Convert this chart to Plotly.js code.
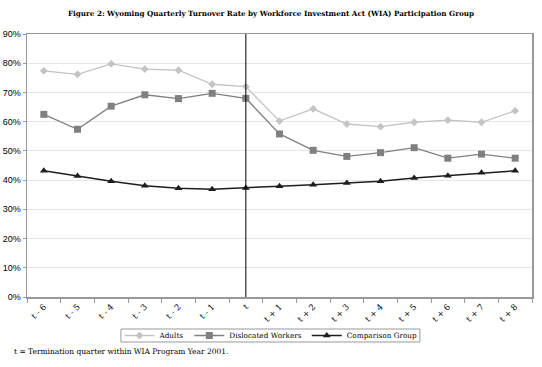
<!DOCTYPE html>
<html><head><meta charset="utf-8">
<script src="https://cdn.plot.ly/plotly-3.0.1.min.js"></script>
<style>body{margin:0;background:#fff}#c{width:542px;height:367px}</style>
</head><body><div id="c"></div>
<script>
const categories = ['t - 6','t - 5','t - 4','t - 3','t - 2','t - 1','t','t + 1','t + 2','t + 3','t + 4','t + 5','t + 6','t + 7','t + 8'];
const adults = [0.774,0.762,0.798,0.780,0.776,0.728,0.720,0.602,0.644,0.592,0.583,0.598,0.605,0.598,0.637];
const dislocated = [0.625,0.574,0.653,0.692,0.679,0.697,0.680,0.558,0.502,0.481,0.494,0.511,0.475,0.489,0.475];
const comparison = [0.432,0.414,0.396,0.381,0.372,0.369,0.373,0.379,0.384,0.390,0.396,0.407,0.415,0.425,0.432];
const termCategory = 't';
const yTicks = [0,0.1,0.2,0.3,0.4,0.5,0.6,0.7,0.8,0.9];

const serif = 'DejaVu Serif, serif';
const traces = [
  {x:categories, y:adults, name:'Adults', mode:'lines+markers',
   line:{color:'#c4c4c4', width:1.3}, marker:{symbol:'diamond', size:6, color:'#c4c4c4'}},
  {x:categories, y:dislocated, name:'Dislocated Workers', mode:'lines+markers',
   line:{color:'#808080', width:1.3}, marker:{symbol:'square', size:7, color:'#808080'}},
  {x:categories, y:comparison, name:'Comparison Group', mode:'lines+markers',
   line:{color:'#1e1e1e', width:1.5}, marker:{symbol:'triangle-up', size:7, color:'#1e1e1e'}}
];
const tIdx = categories.indexOf(termCategory);
const layout = {
  width:542, height:367,
  margin:{l:27, r:10, t:34, b:70},
  paper_bgcolor:'#fff', plot_bgcolor:'#fff',
  title:{text:'<b>Figure 2: Wyoming Quarterly Turnover Rate by Workforce Investment Act (WIA) Participation Group</b>',
    font:{family:serif, size:7.2, color:'#000'}, x:0.5, xanchor:'center', y:0.963, yanchor:'middle'},
  xaxis:{type:'category', tickson:'boundaries', ticks:'outside', ticklen:4, tickcolor:'#999',
    tickangle:-45, tickfont:{family:serif, size:8.5, color:'#000'},
    showline:true, linecolor:'#999', linewidth:1.5, mirror:true, showgrid:false,
    range:[-0.5, categories.length-0.5], fixedrange:true},
  yaxis:{range:[0,0.9], tickvals:yTicks, tickformat:'.0%', ticks:'outside', ticklen:3, tickcolor:'#999',
    tickfont:{family:'Liberation Sans, Arial, sans-serif', size:9, color:'#000'},
    showline:true, linecolor:'#999', linewidth:1.5, mirror:true,
    showgrid:true, gridcolor:'#e6e6e6', gridwidth:1, zeroline:false, fixedrange:true},
  shapes:[
    {type:'line', xref:'x', yref:'paper', x0:tIdx, x1:tIdx, y0:0, y1:1, line:{color:'#000', width:1}},
    {type:'rect', xref:'paper', yref:'paper', x0:0.186, x1:0.778, y0:-0.1217, y1:-0.1711,
     line:{color:'#999', width:1}, fillcolor:'rgba(0,0,0,0)'}
  ],
  showlegend:true,
  legend:{orientation:'h', x:0.483, xanchor:'center', y:-0.1464, yanchor:'middle',
    borderwidth:0, bgcolor:'rgba(0,0,0,0)',
    font:{family:serif, size:7.3, color:'#000'}, traceorder:'normal'},
  annotations:[{xref:'paper', yref:'paper', x:-0.03, y:-0.209, xanchor:'left', yanchor:'middle',
    text:'t = Termination quarter within WIA Program Year 2001.', showarrow:false,
    font:{family:serif, size:7.5, color:'#000'}}]
};
Plotly.newPlot('c', traces, layout, {displayModeBar:false, staticPlot:true});
</script></body></html>
